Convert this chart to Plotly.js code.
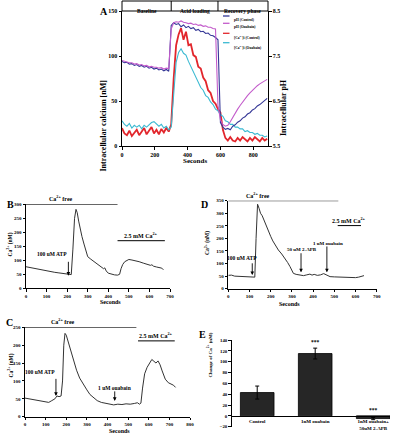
<!DOCTYPE html>
<html><head><meta charset="utf-8">
<script src="https://cdn.plot.ly/plotly-3.0.1.min.js"></script>
<style>html,body{margin:0;padding:0;background:#fff}#c{width:400px;height:440px}</style>
</head><body><div id="c"></div>
<script>
// ---------- Panel A data ----------
const tA = [0,15,30,45,60,75,90,105,120,135,150,165,180,195,210,225,240,255,270,285,300,315,330,345,360,375,390,405,420,435,450,465,480,495,510,525,540,555,570,585,600,615,630,645,660,675,690,705,720,735,750,765,780,795,810,825,840,855,870,885];
const phControl = [7.38,7.35,7.36,7.32,7.33,7.29,7.31,7.27,7.29,7.25,7.27,7.23,7.25,7.21,7.23,7.19,7.21,7.17,7.20,7.16,8.18,8.24,8.20,8.22,8.15,8.19,8.13,8.16,8.11,8.13,8.07,8.09,8.04,8.05,8.00,8.01,7.96,7.95,7.91,7.86,6.02,5.92,5.87,5.89,5.86,5.94,5.97,6.03,6.06,6.12,6.15,6.21,6.24,6.30,6.33,6.39,6.42,6.47,6.51,6.56];
const phOuabain = [7.40,7.38,7.37,7.35,7.35,7.32,7.33,7.30,7.31,7.28,7.29,7.26,7.27,7.25,7.25,7.23,7.24,7.21,7.23,7.22,8.10,8.24,8.26,8.25,8.28,8.25,8.24,8.22,8.23,8.20,8.21,8.18,8.19,8.16,8.17,8.14,8.14,8.11,8.10,6.40,6.08,5.98,5.94,5.96,6.04,6.14,6.22,6.32,6.40,6.48,6.56,6.62,6.68,6.74,6.80,6.84,6.88,6.92,6.96,6.98];
const caControl = [20,14,12,17,11,15,18,12,16,20,13,17,21,14,18,13,19,15,20,16,24,75,112,124,131,118,127,112,113,101,99,88,86,76,72,62,59,50,47,41,37,18,9,6,10,6,5,9,6,10,7,5,9,6,10,7,5,9,6,8];
const caOuabain = [28,24,22,25,20,23,21,23,19,23,21,24,26,27,24,22,24,20,22,18,21,58,93,104,108,103,101,94,88,84,76,72,65,62,56,54,49,46,41,39,35,33,28,27,24,24,21,21,19,19,16,17,15,15,13,14,12,12,10,11];
const seriesNamesA = ['pH (Control)','pH (Ouabain)','[Ca<sup>2+</sup>]i (Control)','[Ca<sup>2+</sup>]i (Ouabain)'];
const phaseLabels = ['Baseline','Acid loading','Recovery phase'];

// ---------- Panel B ----------
const tB = [0,20,40,60,80,100,120,140,160,180,200,212,220,228,236,243,249,256,264,272,282,292,300,315,330,345,360,370,377,383,390,400,415,430,445,455,462,470,480,490,500,515,530,550,570,590,605,612,620,635,650,660,668];
const cB = [77,74,70,67,64,61,59,57,55,53,51,48,49,140,250,282,270,240,210,185,158,130,113,104,96,88,80,74,70,73,62,54,50,48,47,50,70,85,95,100,103,101,99,95,90,86,82,84,79,76,73,72,66];

// ---------- Panel D ----------
const tD = [0,15,30,45,60,75,90,105,118,125,131,138,145,152,160,168,176,184,192,200,210,220,236,252,267,280,291,300,307,320,338,355,370,385,395,405,420,435,450,460,470,480,500,520,540,560,580,600,615,630,640];
const cD = [53,54,50,49,50,47,46,46,45,46,200,336,320,300,290,272,255,240,225,208,190,175,154,138,121,104,88,72,61,57,54,52,55,58,54,57,53,55,60,56,50,48,47,46,47,45,45,44,46,48,52];

// ---------- Panel C ----------
const tC = [0,20,40,60,80,100,115,130,145,155,165,175,182,188,194,200,208,215,225,235,250,265,280,300,315,330,350,370,390,410,430,450,470,490,510,530,545,555,562,570,580,592,605,615,625,635,645,655,665,680,695,710,720,730];
const cC = [52,50,47,45,44,40,40,45,50,58,56,58,100,200,233,228,212,198,180,160,130,108,92,75,62,54,45,40,37,34,33,35,34,36,35,37,39,35,38,80,120,138,150,160,155,150,156,145,128,105,95,90,88,82];

// ---------- Panel E ----------
const catsE = ['Control','1nM ouabain','1nM ouabain+<br>50uM 2-APB'];
const valsE = [43,115,-5];
const errsE = [12,10,2];
const starsE = ['','***','***'];

const F = 'Liberation Serif, Times New Roman, serif';
const px = x => x/400, py = y => 1 - y/440;
const fnt = (s) => ({family:F, size:s, color:'#000', weight:'bold'});

const colA = ['#343696','#c35ccb','#e2262c','#3bbad2'];
const wA = [1.1,1.1,1.8,1.1];

const traces = [
  {x:tA, y:phControl, yaxis:'y2', xaxis:'x', mode:'lines', line:{color:colA[0], width:wA[0]}},
  {x:tA, y:phOuabain, yaxis:'y2', xaxis:'x', mode:'lines', line:{color:colA[1], width:wA[1]}},
  {x:tA, y:caControl, yaxis:'y', xaxis:'x', mode:'lines', line:{color:colA[2], width:wA[2]}},
  {x:tA, y:caOuabain, yaxis:'y', xaxis:'x', mode:'lines', line:{color:colA[3], width:wA[3]}},
  {x:tB, y:cB, xaxis:'x3', yaxis:'y3', mode:'lines', line:{color:'#333', width:1}},
  {x:tD, y:cD, xaxis:'x4', yaxis:'y4', mode:'lines', line:{color:'#333', width:1}},
  {x:tC, y:cC, xaxis:'x5', yaxis:'y5', mode:'lines', line:{color:'#333', width:1}},
  {x:catsE, y:valsE, xaxis:'x6', yaxis:'y6', type:'bar', width:0.58,
   marker:{color:'#262626', line:{color:'#000', width:0.8}},
   error_y:{type:'data', array:errsE, color:'#000', thickness:1, width:2}},
];

function ax(o){
  return Object.assign({showline:true, linecolor:'#000', linewidth:1, ticks:'outside', ticklen:2.5,
    tickcolor:'#000', tickwidth:1, showgrid:false, zeroline:false, tickfont:fnt(5), fixedrange:true}, o);
}

const layout = {
  width:400, height:440, margin:{l:0,r:0,t:0,b:0}, showlegend:false,
  paper_bgcolor:'#fff', plot_bgcolor:'rgba(0,0,0,0)', font:{family:F},
  xaxis: ax({domain:[px(122),px(268)], anchor:'y', range:[0,890], tickvals:[0,200,400,600,800], tickfont:fnt(6)}),
  yaxis: ax({domain:[py(146),py(11)], anchor:'x', range:[0,150], tickvals:[0,50,100,150], tickfont:fnt(6)}),
  yaxis2: ax({overlaying:'y', anchor:'x', side:'right', range:[5.5,8.5], tickvals:[5.5,6.5,7.5,8.5], tickformat:'.1f', tickfont:fnt(6)}),
  xaxis3: ax({domain:[px(26),px(170)], anchor:'y3', range:[0,700], dtick:100}),
  yaxis3: ax({domain:[py(288.3),py(204.3)], anchor:'x3', range:[0,300], dtick:50}),
  xaxis4: ax({domain:[px(228.3),px(376.7)], anchor:'y4', range:[0,700], dtick:100}),
  yaxis4: ax({domain:[py(288.7),py(200.7)], anchor:'x4', range:[0,350], dtick:50}),
  xaxis5: ax({domain:[px(25),px(190)], anchor:'y5', range:[0,800], dtick:100}),
  yaxis5: ax({domain:[py(416.7),py(327.3)], anchor:'x5', range:[0,250], dtick:50}),
  xaxis6: ax({domain:[px(231.7),px(390)], anchor:'free', position:py(416), type:'category', range:[-0.44,2.29], ticks:'', tickfont:fnt(5)}),
  yaxis6: ax({domain:[py(426.7),py(340)], anchor:'x6', range:[-20,140], dtick:20, tickfont:fnt(4.8)}),
  shapes:[], annotations:[]
};

const S = layout.shapes, A = layout.annotations;
const hl = (xr, yr, x0, x1, y) => S.push({type:'line', xref:xr, yref:yr, x0, x1, y0:y, y1:y, line:{color:'#000', width:1}});
const tx = (text, x, y, xr, yr, size, extra) => A.push(Object.assign({text:'<b>'+text+'</b>', x, y, xref:xr, yref:yr, showarrow:false, font:fnt(size)}, extra||{}));
const arr = (xr, yr, x, y0, y1) => A.push({text:'', x, y:y1, ax:x, ay:y0, xref:xr, yref:yr, axref:xr, ayref:yr,
  showarrow:true, arrowhead:2, arrowsize:0.8, arrowwidth:0.9, arrowcolor:'#000'});

// Panel A header
S.push({type:'rect', xref:'paper', yref:'paper', x0:px(122), x1:px(268), y0:py(11), y1:py(1), line:{color:'#000', width:1}});
[300,585].forEach(v => S.push({type:'line', xref:'x', yref:'paper', x0:v, x1:v, y0:py(11), y1:py(1), line:{color:'#000', width:1}}));
[150,442,737].forEach((v,i) => tx(phaseLabels[i], v, py(6), 'x', 'paper', 5.5));
// Panel A legend
const legY = [16, 23.3, 33.3, 42.7];
legY.forEach((yy,i) => {
  S.push({type:'line', xref:'paper', yref:'paper', x0:px(223), x1:px(229.5), y0:py(yy), y1:py(yy), line:{color:colA[i], width:1.3}});
  tx(seriesNamesA[i], px(231.5), py(yy), 'paper', 'paper', 3.6, {xanchor:'left'});
});
// Panel A titles
tx('A', px(98), py(4), 'paper', 'paper', 10);
tx('Intracellular calcium [nM]', px(97), py(78), 'paper', 'paper', 8, {textangle:-90});
tx('Intracellular pH', px(290), py(77), 'paper', 'paper', 8, {textangle:-90});
tx('Seconds', px(195), py(161), 'paper', 'paper', 7);

// Panel B
tx('B', px(5), py(205), 'paper', 'paper', 10);
tx('Ca<sup>2+</sup> (nM)', px(5), py(245), 'paper', 'paper', 5.5, {textangle:-90});
tx('Seconds', px(98), py(307), 'paper', 'paper', 6);
hl('x3','y3', 0, 445, 300); tx('Ca<sup>2+</sup> free', 170, 300, 'x3', 'y3', 6, {yanchor:'bottom'});
hl('x3','y3', 445, 675, 170); tx('2.5 mM Ca<sup>2+</sup>', 560, 170, 'x3', 'y3', 6, {yanchor:'bottom'});
tx('100 uM ATP', 127, 124, 'x3', 'y3', 5.5); arr('x3','y3', 206, 100, 45);

// Panel D
tx('D', px(205), py(205), 'paper', 'paper', 10);
tx('Ca<sup>2+</sup> (nM)', px(207), py(243), 'paper', 'paper', 5.5, {textangle:-90});
tx('Seconds', px(302), py(309), 'paper', 'paper', 6);
hl('x4','y4', 0, 519, 350); tx('Ca<sup>2+</sup> free', 141, 350, 'x4', 'y4', 6, {yanchor:'bottom'});
hl('x4','y4', 516, 626, 251); tx('2.5 mM Ca<sup>2+</sup>', 571, 251, 'x4', 'y4', 6, {yanchor:'bottom'});
tx('100 uM ATP', 64, 123, 'x4', 'y4', 5.5); arr('x4','y4', 113, 107, 54);
tx('50 uM 2-APB', 346, 154, 'x4', 'y4', 5); arr('x4','y4', 343, 147, 65);
tx('1 uM ouabain', 472, 180, 'x4', 'y4', 5); arr('x4','y4', 465, 174, 65);

// Panel C
tx('C', px(4), py(330), 'paper', 'paper', 10);
tx('Ca<sup>2+</sup> (nM)', px(5), py(380), 'paper', 'paper', 5.5, {textangle:-90});
tx('Seconds', px(107), py(436), 'paper', 'paper', 6);
hl('x5','y5', 0, 540, 250); tx('Ca<sup>2+</sup> free', 185, 250, 'x5', 'y5', 6, {yanchor:'bottom'});
hl('x5','y5', 548, 726, 212); tx('2.5 mM Ca<sup>2+</sup>', 637, 212, 'x5', 'y5', 6, {yanchor:'bottom'});
tx('100 uM ATP', 73, 126, 'x5', 'y5', 5.5); arr('x5','y5', 150, 110, 58);
tx('1 uM ouabain', 435, 81, 'x5', 'y5', 5.5); arr('x5','y5', 435, 75, 44);

// Panel E
tx('E', px(203), py(342), 'paper', 'paper', 10);
tx('Change of Ca<sup>2+</sup> (nM)', px(209), py(380), 'paper', 'paper', 5, {textangle:-90});
catsE.forEach((c,i) => { if (starsE[i]) tx(starsE[i], c, (valsE[i] > 0 ? valsE[i] + errsE[i] : 0) + 2, 'x6', 'y6', 5.5, {yanchor:'bottom'}); });

Plotly.newPlot('c', traces, layout, {staticPlot:true, displayModeBar:false});
</script></body></html>
